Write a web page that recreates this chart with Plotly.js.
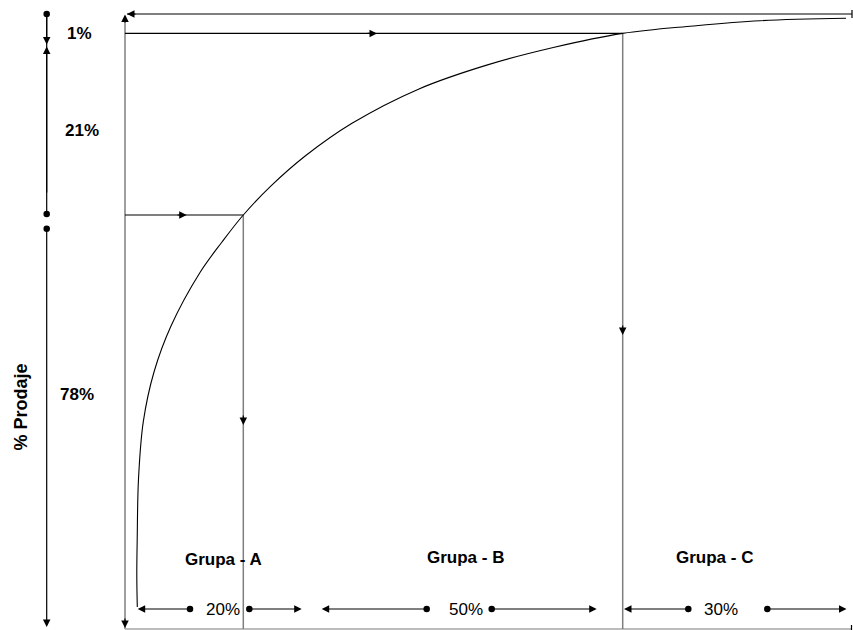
<!DOCTYPE html>
<html>
<head>
<meta charset="utf-8">
<script src="https://cdn.plot.ly/plotly-3.0.1.min.js"></script>
<style>html,body{margin:0;padding:0;background:#fff;}#chart{width:853px;height:630px;}</style>
</head>
<body>
<div id="chart"></div>
<script>
// ---- ABC (Pareto) schematic (diagram units) ----
const curveX = [137.3, 136.8, 137.2, 138.5, 143.3, 154, 171, 200, 222, 243.3, 270.5, 305.5, 352, 419, 486.7, 553.3, 622.7, 693, 760, 846];
const curveY = [607, 575, 540, 479, 421.7, 372, 326, 272.5, 242, 215, 186.4, 155.8, 123.3, 88.9, 65.1, 47.5, 33.4, 26, 20.7, 18.3];

const groups = ['Grupa - A', 'Grupa - B', 'Grupa - C'];
const itemShares = ['20%', '50%', '30%'];
const salesShares = ['1%', '21%', '78%'];
const axisTitle = '% Prodaje';

// frame / cut levels
const frameX = [125, 852];
const frameY = [14, 629];
const cutX = [243.3, 622.7];      // A|B and B|C boundaries
const cutY = [215, 33.4];         // curve levels at the boundaries

// label placement
const groupTextX = [223, 465, 714];
const groupTextY = [559, 557.5, 557.5];
const shareTextX = [223, 465.5, 721];
const dimRowY = 609;
const salesTextX = [79, 82, 77];
const salesTextY = [33, 130, 394];

// bottom dimension arrows (dot -> tip)
const dimDotX = [190, 249.3, 426.7, 491.7, 688.3, 767.3];
const dimTipX = [137.7, 301.7, 321.7, 596.7, 624, 846.5];

// left dimension line
const leftDimX = 46.7;
const leftDots = [14, 214, 228.7];
const leftTips = [44.5, 46.5, 627];

const black = '#000000';
const gray = '#7f7f7f';
const lightGray = '#a6a6a6';
const font = 'Liberation Sans, Arial, sans-serif';

function seg(x, y, color, width) {
  return {x: x, y: y, type: 'scatter', mode: 'lines', line: {color: color, width: width},
          hoverinfo: 'skip', showlegend: false};
}

const traces = [];
// frame
traces.push(seg([frameX[0], frameX[0]], [frameY[0] + 2, frameY[1]], gray, 1.5));
traces.push(seg([frameX[0], frameX[1]], [frameY[1], frameY[1]], lightGray, 1.5));
traces.push(seg([frameX[0] + 2, frameX[1]], [frameY[0], frameY[0]], black, 1.2));
traces.push(seg([frameX[1], frameX[1]], [frameY[0] - 4, frameY[0] + 4], black, 1.2));
traces.push(seg([frameX[1] - 0.5, frameX[1] - 0.5], [frameY[1] - 4, frameY[1] + 1], black, 1.2));
// cuts
traces.push(seg([frameX[0], cutX[0]], [cutY[0], cutY[0]], black, 1.2));
traces.push(seg([cutX[0], cutX[0]], [cutY[0], frameY[1]], gray, 1.5));
traces.push(seg([frameX[0], cutX[1]], [cutY[1], cutY[1]], black, 1.2));
traces.push(seg([cutX[1], cutX[1]], [cutY[1], frameY[1]], gray, 1.5));
// curve
traces.push({x: curveX, y: curveY, type: 'scatter', mode: 'lines',
             line: {color: black, width: 1.1, shape: 'spline', smoothing: 1},
             hoverinfo: 'skip', showlegend: false});
// left dimension line
traces.push(seg([leftDimX, leftDimX], [leftDots[0], leftDots[1]], black, 1.2));
// dots
traces.push({x: dimDotX.concat(leftDots.map(() => leftDimX)),
             y: dimDotX.map(() => dimRowY).concat(leftDots),
             type: 'scatter', mode: 'markers', marker: {color: black, size: 6.5},
             hoverinfo: 'skip', showlegend: false});

const annotations = [];
function arrow(x, y, ax, ay, color) {
  annotations.push({x: x, y: y, ax: ax, ay: ay, xref: 'x', yref: 'y', axref: 'x', ayref: 'y',
                    text: '', showarrow: true, arrowhead: 2, arrowsize: 1.25, arrowwidth: 1.2,
                    arrowcolor: color || black, standoff: 0});
}
// bottom dimension arrows
dimDotX.forEach((d, i) => arrow(dimTipX[i], dimRowY, d, dimRowY));
// left dimension arrows
arrow(leftDimX, leftTips[0], leftDimX, leftDots[0]);
arrow(leftDimX, leftTips[1], leftDimX, leftDots[1] - 20);
arrow(leftDimX, leftTips[2], leftDimX, leftDots[2]);
// flow arrows on the cut lines
arrow(186.7, cutY[0], 176, cutY[0]);
arrow(377, cutY[1], 366, cutY[1]);
arrow(cutX[0], 425, cutX[0], 414);
arrow(cutX[1], 335, cutX[1], 324);
// frame corner arrows
arrow(frameX[0], frameY[0] + 0.5, frameX[0], frameY[0] + 10);
arrow(frameX[0] + 2, frameY[0], frameX[0] + 12, frameY[0]);
arrow(frameX[0], frameY[1] - 1, frameX[0], frameY[1] - 12);

// texts
groups.forEach((g, i) => annotations.push({x: groupTextX[i], y: groupTextY[i], xref: 'x', yref: 'y',
  text: '<b>' + g + '</b>', showarrow: false, xanchor: 'center', yanchor: 'middle',
  font: {family: font, size: 17, color: black}}));
itemShares.forEach((s, i) => annotations.push({x: shareTextX[i], y: dimRowY, xref: 'x', yref: 'y',
  text: s, showarrow: false, xanchor: 'center', yanchor: 'middle', bgcolor: 'rgba(0,0,0,0)',
  font: {family: font, size: 17, color: black}}));
salesShares.forEach((s, i) => annotations.push({x: salesTextX[i], y: salesTextY[i], xref: 'x', yref: 'y',
  text: '<b>' + s + '</b>', showarrow: false, xanchor: 'center', yanchor: 'middle',
  font: {family: font, size: 17, color: black}}));
annotations.push({x: 20.5, y: 407, xref: 'x', yref: 'y', text: '<b>' + axisTitle + '</b>',
  showarrow: false, textangle: -90, xanchor: 'center', yanchor: 'middle',
  font: {family: font, size: 18, color: black}});

const layout = {
  width: 853, height: 630,
  margin: {l: 0, r: 0, t: 0, b: 0},
  paper_bgcolor: '#ffffff', plot_bgcolor: '#ffffff',
  xaxis: {range: [0, 853], visible: false, fixedrange: true},
  yaxis: {range: [630, 0], visible: false, fixedrange: true},
  showlegend: false,
  annotations: annotations
};

Plotly.newPlot('chart', traces, layout, {displayModeBar: false, staticPlot: true});
</script>
</body>
</html>
